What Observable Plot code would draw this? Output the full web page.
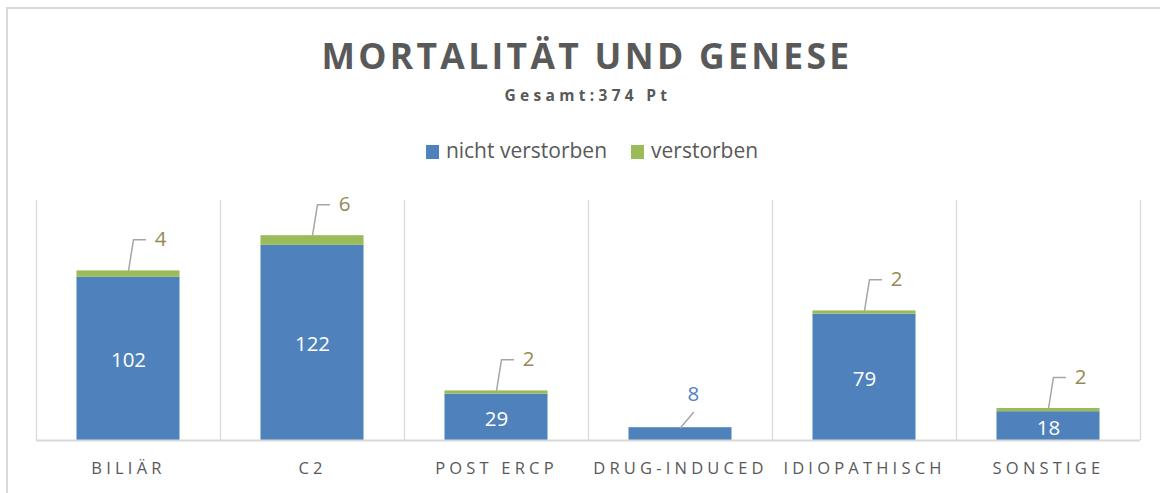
<!DOCTYPE html>
<html>
<head>
<meta charset="utf-8">
<script src="https://cdn.jsdelivr.net/npm/d3@7"></script>
<script src="https://cdn.jsdelivr.net/npm/@observablehq/plot@0.6"></script>
<style>
  html, body { margin: 0; padding: 0; background: #fff; }
  #frame { position: relative; width: 1160px; height: 493px; overflow: hidden; font-family: "Open Sans", "Noto Sans", sans-serif; color: #595959; }
  #border { position: absolute; left: 6px; top: 7px; width: 1170px; height: 500px; border-left: 2px solid #d9d9d9; border-top: 2px solid #d9d9d9; }
  #title { position: absolute; top: 30px; left: 7px; width: 1160px; text-align: center; font-size: 35.5px; font-weight: 700; letter-spacing: 3.3px; line-height: 50px; }
  #subtitle { position: absolute; top: 84px; left: 8px; width: 1160px; text-align: center; font-size: 15.5px; font-weight: 700; letter-spacing: 4.3px; line-height: 22px; }
  #legend { position: absolute; top: 135px; left: 12px; width: 1160px; text-align: center; font-size: 21px; line-height: 30px; }
  #legend span.item { display: inline-block; margin: 0 12px; }
  #legend span.sw { display: inline-block; width: 13px; height: 14px; margin-right: 7px; vertical-align: -1px; }
  #chart { position: absolute; left: 0; top: 190px; }
  #chart g[aria-label="x-axis tick label"] text { letter-spacing: 4.2px; }
</style>
</head>
<body>
<div id="frame">
  <div id="border"></div>
  <div id="title">MORTALITÄT UND GENESE</div>
  <div id="subtitle">Gesamt:374 Pt</div>
  <div id="legend"></div>
  <div id="chart"></div>
</div>
<script>
const categories = ["BILIÄR", "C2", "POST ERCP", "DRUG-INDUCED", "IDIOPATHISCH", "SONSTIGE"];
const nichtVerstorben = [102, 122, 29, 8, 79, 18];
const verstorben = [4, 6, 2, 0, 2, 2];
const seriesNames = ["nicht verstorben", "verstorben"];
const seriesColors = ["#4F81BD", "#9BBB59"];
const labelColor = "#948A54";

// legend
const legend = document.getElementById("legend");
seriesNames.forEach((n, i) => {
  const s = document.createElement("span");
  s.className = "item";
  s.innerHTML = `<span class="sw" style="background:${seriesColors[i]}"></span>${n}`;
  legend.appendChild(s);
});

const half = 0.28;
const rows = [];
categories.forEach((c, i) => {
  rows.push({i, cat: c, series: seriesNames[0], y1: 0, y2: nichtVerstorben[i]});
  if (verstorben[i] > 0)
    rows.push({i, cat: c, series: seriesNames[1], y1: nichtVerstorben[i], y2: nichtVerstorben[i] + verstorben[i]});
});

const inside = categories.map((c, i) => ({i, v: nichtVerstorben[i], y: nichtVerstorben[i] / 2, show: verstorben[i] > 0})).filter(d => d.show);

const leaderUp = 19.4;
const outside = categories.map((c, i) => {
  const total = nichtVerstorben[i] + verstorben[i];
  const hasV = verstorben[i] > 0;
  return {i, total, hasV, text: hasV ? verstorben[i] : nichtVerstorben[i]};
});

const leaderPts = [];
outside.forEach(d => {
  if (d.hasV) {
    leaderPts.push({k: d.i, x: d.i, y: d.total});
    leaderPts.push({k: d.i, x: d.i + 0.027, y: d.total + leaderUp});
    leaderPts.push({k: d.i, x: d.i + 0.092, y: d.total + leaderUp});
  } else {
    leaderPts.push({k: d.i, x: d.i, y: d.total});
    leaderPts.push({k: d.i, x: d.i + 0.07, y: d.total + 9.5});
  }
});

const plot = Plot.plot({
  width: 1160,
  height: 300,
  marginTop: 10,
  marginBottom: 50,
  marginLeft: 36,
  marginRight: 20,
  style: {fontFamily: "'Open Sans', 'Noto Sans', sans-serif", color: "#595959", background: "transparent"},
  x: {domain: [-0.5, categories.length - 0.5], axis: null},
  y: {domain: [0, 150], axis: null},
  marks: [
    Plot.ruleX(d3.range(-0.5, categories.length, 1), {y1: 0, y2: 150, stroke: "#d9d9d9", strokeWidth: 1.3}),
    Plot.rectY(rows, {x1: d => d.i - half, x2: d => d.i + half, y1: "y1", y2: "y2",
      fill: d => seriesColors[seriesNames.indexOf(d.series)]}),
    Plot.ruleY([0], {stroke: "#d9d9d9", strokeWidth: 2}),
    Plot.text(inside, {x: "i", y: "y", text: d => String(d.v), fill: "white", fontSize: 20.5, dy: 2}),
    Plot.line(leaderPts, {x: "x", y: "y", z: "k", stroke: "#a6a6a6", strokeWidth: 1.5}),
    Plot.text(outside.filter(d => d.hasV), {x: d => d.i + 0.174, y: d => d.total + leaderUp, text: d => String(d.text), fill: labelColor, fontSize: 20.5, dy: 0}),
    Plot.text(outside.filter(d => !d.hasV), {x: d => d.i + 0.07, y: d => d.total + 9.5, text: d => String(d.text), fill: seriesColors[0], fontSize: 20.5, dy: -18}),
    Plot.axisX(d3.range(categories.length), {tickSize: 0, tickFormat: i => categories[i], fontSize: 16.5, fill: "#595959", tickPadding: 22})
  ]
});
document.getElementById("chart").appendChild(plot);
</script>
</body>
</html>
